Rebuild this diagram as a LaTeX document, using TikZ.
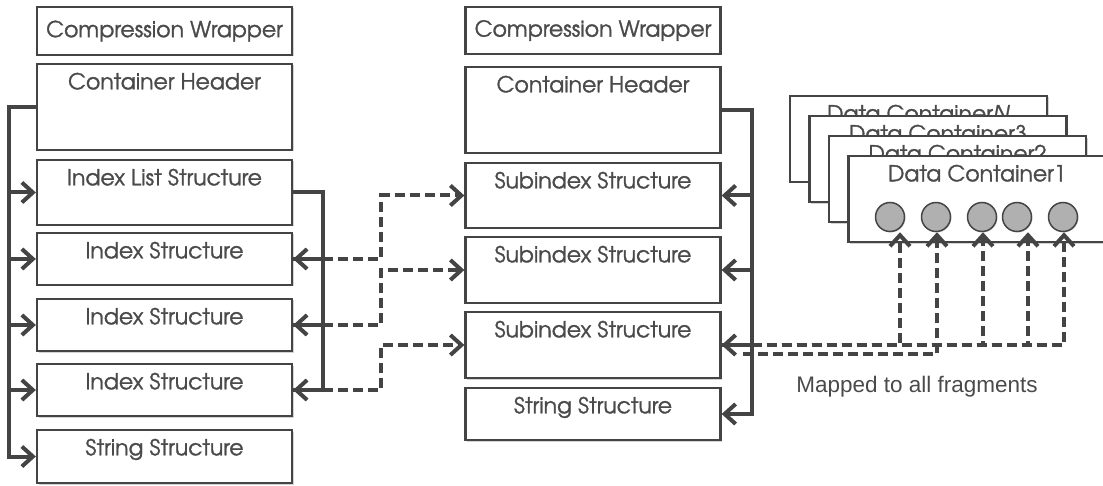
\documentclass[tikz,border=0pt]{standalone}
\usepackage{fontspec}
\setmainfont{Liberation Sans}
\newfontfamily\gothic{texgyreadventor}[Extension=.otf, UprightFont=*-regular, ItalicFont=*-italic, BoldFont=*-bold, FakeBold=1.2]
\usetikzlibrary{arrows.meta,shadows}

\definecolor{linegray}{HTML}{444444}
\definecolor{textgray}{HTML}{4A4A4A}
\definecolor{dotgray}{HTML}{B0B0B0}

\tikzset{
	frame/.style={draw=linegray, line width=2.3pt, fill=white, minimum width=255pt, inner sep=0pt,
		drop shadow={shadow xshift=1.5pt, shadow yshift=-1.5pt, opacity=0.35, fill=gray}},
	boxfont/.style={text=textgray, font=\gothic\fontsize{22}{24}\selectfont},
	boxtext/.style={boxfont, anchor=base, yshift=-26.5pt},
	box/.style={frame, label={[boxtext]north:#1}},
	dot/.style={circle, draw=linegray, line width=1.5pt, fill=dotgray, minimum size=29pt, inner sep=0pt,
		drop shadow={shadow xshift=1pt, shadow yshift=-1pt, opacity=0.3, fill=gray}},
	bus/.style={draw=linegray, line width=4pt},
	busarrow/.style={bus, -{Straight Barb[length=11pt,width=20pt]}},
	dashline/.style={draw=linegray, line width=4pt, dash pattern=on 10pt off 5pt},
	dasharrow/.style={dashline, -{Straight Barb[length=11pt,width=20pt]}}
}

\begin{document}
\begin{tikzpicture}[x=1pt, y=-1pt]
	\useasboundingbox (0,0) rectangle (1103,486);
	
	% Left container.
	\node[frame, boxfont, minimum height=48pt] (lcw) at (164.5,31) {Compression Wrapper};
	\node[box=Container Header, minimum height=86pt] (lch) at (164.5,107) {};
	\node[box=Index List Structure, minimum height=65pt] (lil) at (164.5,192.5) {};
	\node[box=Index Structure, minimum height=52pt] (li1) at (164.5,259) {};
	\node[box=Index Structure, minimum height=52pt] (li2) at (164.5,325) {};
	\node[box=Index Structure, minimum height=52pt] (li3) at (164.5,390) {};
	\node[box=String Structure, minimum height=53pt] (lss) at (164.5,456.5) {};
	
	% Middle container.
	\node[frame, boxfont, minimum height=47pt] (mcw) at (593,30.5) {Compression Wrapper};
	\node[box=Container Header, minimum height=86pt] (mch) at (593,110) {};
	\node[box=Subindex Structure, minimum height=65pt] (m1) at (593,195.5) {};
	\node[box=Subindex Structure, minimum height=66pt] (m2) at (593,270) {};
	\node[box=Subindex Structure, minimum height=66pt] (m3) at (593,345) {};
	\node[box=String Structure, minimum height=52pt] (mss) at (593,414) {};
	
	% Data containers, back to front.
	\foreach \n/\d in {\textit{N}/0, 3/19.5, 2/39, 1/58.5}{
		\node[box=Data Container\n, minimum width=257pt, minimum height=86pt] (dc\d) at (918.5+\d,139+\d*1.026) {};
	}
	
	% Fragments of Data Container1.
	\foreach \x [count=\i] in {890,936,982,1017,1063}{
		\node[dot] (c\i) at (\x,217) {};
	}
	
	% Index structures to subindex structures.
	\draw[dasharrow] (li1.east) -- ++(88,0) |- (m1.west);
	\draw[dasharrow] (li2.east) -- ++(88,0) |- (m2.west);
	\draw[dasharrow] (li3.east) -- ++(88,0) |- (m3.west);
	
	% Subindex structure to all fragments.
	\foreach \i/\dx in {1/10, 3/1, 4/11, 5/1}{
		\draw[dasharrow] (m3.east) -| ([xshift=\dx pt]c\i.south);
	}
	\draw[dasharrow] ([xshift=21pt,yshift=-9pt]m3.east) -| ([xshift=1pt]c2.south);
	
	% Header links.
	\foreach \b in {lil,li1,li2,li3,lss}{
		\draw[busarrow] (lch.west) -- ++(-27,0) |- (\b.west);
	}
	\foreach \b in {li1,li2,li3}{
		\draw[busarrow] (lil.east) -- ++(30,0) |- (\b.east);
	}
	\foreach \b in {m1,m2,m3,mss}{
		\draw[busarrow] (mch.east) -- ++(30,0) |- (\b.east);
	}
	
	\node[text=textgray, font=\fontsize{22.5}{24}\selectfont, anchor=base] (mapped) at (917,392) {Mapped to all fragments};
	
\end{tikzpicture}
\end{document}
